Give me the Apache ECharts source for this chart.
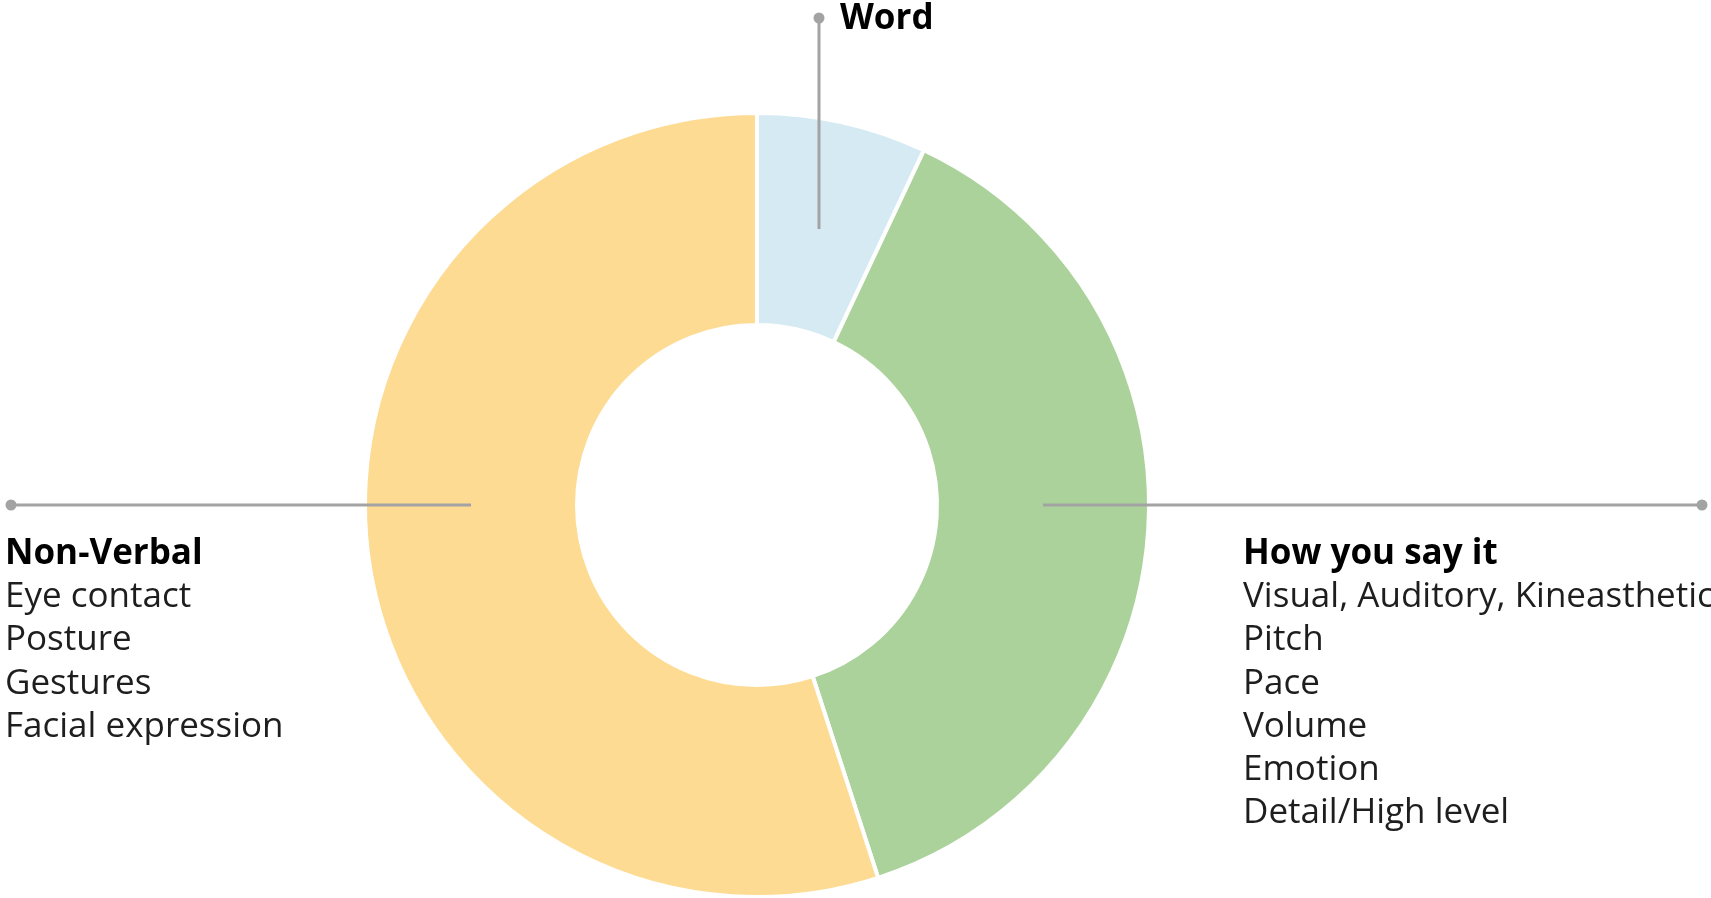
<!DOCTYPE html>
<html>
<head>
<meta charset="utf-8">
<script src="https://cdn.jsdelivr.net/npm/echarts@6/dist/echarts.min.js"></script>
<style>
  html, body { margin: 0; padding: 0; background: #fff; }
  #chart { width: 1711px; height: 898px; }
</style>
</head>
<body>
<div id="chart"></div>
<script>
// share of the message, percent
const categories = ['Word', 'How you say it', 'Non-Verbal']
const shares = [7, 38, 55]
const colors = ['#d5eaf3', '#abd29b', '#fddb92']

const nonVerbalItems = ['Eye contact', 'Posture', 'Gestures', 'Facial expression']
const toneItems = ['Visual, Auditory, Kineasthetic', 'Pitch', 'Pace', 'Volume', 'Emotion', 'Detail/High level']

const cx = 757, cy = 505
const inner = 180, outer = 392
const mid = (inner + outer) / 2
const lineColor = '#a3a3a3'
const fontFamily = '"Open Sans", sans-serif'
const fontSize = 35
const lineStep = 43.2
const firstBaseline = 563

const chart = echarts.init(document.getElementById('chart'))

const graphic = []

// connector lines with end dots, drawn over the ring
const addConnector = function (x1, y1, x2, y2) {
    graphic.push({
        type: 'line',
        z: 100,
        shape: { x1: x1, y1: y1, x2: x2, y2: y2 },
        style: { stroke: lineColor, lineWidth: 3 },
        silent: true
    })
    graphic.push({
        type: 'circle',
        z: 100,
        shape: { cx: x2, cy: y2, r: 5.5 },
        style: { fill: lineColor },
        silent: true
    })
}
const wordX = cx + Math.round(mid * Math.sin(12.6 * Math.PI / 180))
addConnector(wordX, cy - mid + 10, wordX, 18)
addConnector(cx - mid, cy, 11, cy)
addConnector(cx + mid, cy, 1702, cy)

const addText = function (text, x, baseline, bold) {
    graphic.push({
        type: 'text',
        z: 100,
        x: x,
        y: baseline - 9,
        silent: true,
        style: {
            text: text,
            fill: bold ? '#000' : '#1e1e1e',
            font: (bold ? 'bold ' : '') + fontSize + 'px ' + fontFamily,
            align: 'left',
            verticalAlign: 'middle'
        }
    })
}

addText(categories[0], 840, 28, true)

addText(categories[2], 5, firstBaseline, true)
nonVerbalItems.forEach((t, i) => addText(t, 5, firstBaseline + lineStep * (i + 1), false))

addText(categories[1], 1243, firstBaseline, true)
toneItems.forEach((t, i) => addText(t, 1243, firstBaseline + lineStep * (i + 1), false))

chart.setOption({
    animation: false,
    series: [
        {
            type: 'pie',
            center: [cx, cy],
            radius: [inner, outer],
            startAngle: 90,
            clockwise: true,
            label: { show: false },
            labelLine: { show: false },
            emphasis: { disabled: true },
            itemStyle: { borderColor: '#fff', borderWidth: 4 },
            data: categories.map((name, i) => ({
                name: name,
                value: shares[i],
                itemStyle: { color: colors[i] }
            }))
        }
    ],
    graphic: graphic
})
</script>
</body>
</html>
